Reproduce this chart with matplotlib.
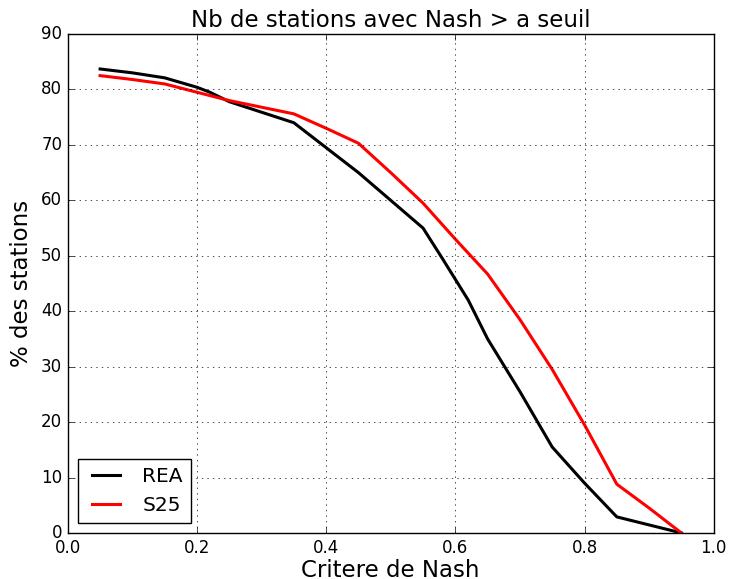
import matplotlib
matplotlib.use('Agg')
import matplotlib.pyplot as plt

# Critere de Nash thresholds and % of stations above them
rea_x = [0.05, 0.10, 0.15, 0.20, 0.22, 0.25, 0.30, 0.35, 0.40, 0.45, 0.50,
         0.55, 0.58, 0.62, 0.65, 0.70, 0.75, 0.80, 0.85, 0.95]
rea_y = [83.7, 83.0, 82.1, 80.4, 79.5, 77.8, 75.9, 74.0, 69.5, 65.0, 60.0,
         55.0, 49.5, 42.0, 35.0, 25.5, 15.5, 9.0, 2.9, 0.0]

s25_x = [0.05, 0.10, 0.15, 0.20, 0.25, 0.30, 0.35, 0.40, 0.45, 0.50, 0.55,
         0.60, 0.65, 0.70, 0.75, 0.80, 0.85, 0.90, 0.95]
s25_y = [82.5, 81.8, 81.0, 79.5, 78.0, 76.8, 75.6, 73.0, 70.3, 65.0, 59.5,
         53.0, 46.7, 38.5, 29.5, 19.5, 8.8, 4.5, 0.0]

plt.style.use('classic')
fig = plt.figure(figsize=(7.29, 5.79), dpi=100, facecolor='white')
ax = fig.add_axes([0.093, 0.0795, 0.886, 0.8617])

ax.plot(rea_x, rea_y, color='black', linewidth=2.2, label='REA')
ax.plot(s25_x, s25_y, color='red', linewidth=2.2, label='S25')

ax.set_xlim(0, 1)
ax.set_ylim(0, 90)
ax.grid(True)
ax.set_title("Nb de stations avec Nash > a seuil", fontsize=16.5)
ax.set_xlabel("Critere de Nash", fontsize=16.5, labelpad=2)
ax.set_ylabel("% des stations", fontsize=16.5, labelpad=6)
ax.legend(loc='lower left', fontsize=14.5)

fig.savefig('out.png', dpi=100, facecolor='white')
